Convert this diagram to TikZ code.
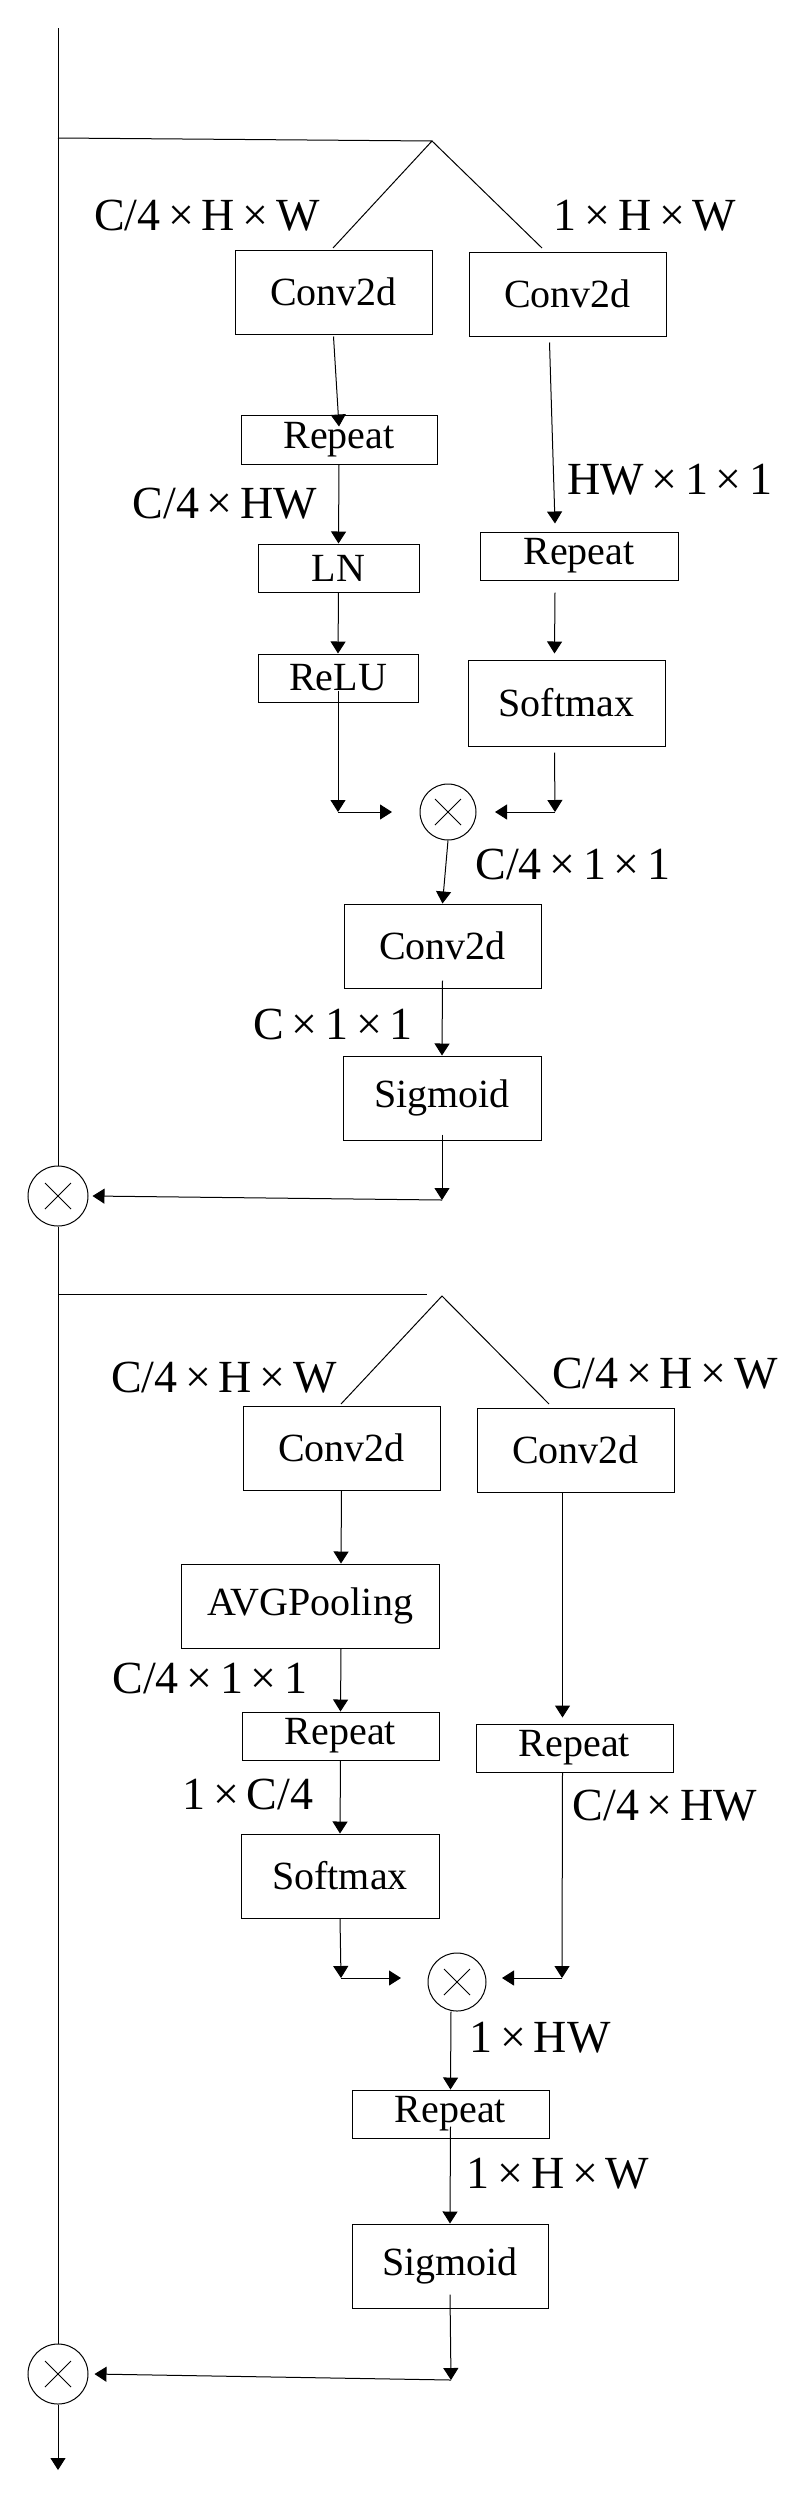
\documentclass[tikz,border=0pt]{standalone}
\usepackage{fontspec}
\setmainfont{Liberation Serif}
\usetikzlibrary{arrows.meta}
\begin{document}
\begin{tikzpicture}[x=1pt,y=-1pt,
  box/.style={draw,line width=1pt,inner sep=0pt,font=\fontsize{40}{44}\selectfont},
  lab/.style={inner sep=0pt,font=\fontsize{46}{50}\selectfont},
  mul/.style={draw,circle,line width=1pt,minimum size=#1,inner sep=0pt},
  ln/.style={line width=1pt},
  arr/.style={line width=1pt,-{Triangle[width=15pt,length=12pt]}}]
\useasboundingbox (0,0) rectangle (807,2500);
\newcommand{\X}{\,×\,}
% ---------- top block ----------
\node[box,minimum width=197,minimum height=84] (cL1) at (333.5,292) {Conv2d};
\node[box,minimum width=197,minimum height=84] (cR1) at (567.5,294) {Conv2d};
\node[box,minimum width=196,minimum height=49] (rep1) at (339,439.5) {Repeat};
\node[box,minimum width=161,minimum height=48] (lnb) at (338.5,568) {LN};
\node[box,minimum width=160,minimum height=48] (relu) at (338,678) {ReLU};
\node[box,minimum width=198,minimum height=48] (repR1) at (579,556) {Repeat};
\node[box,minimum width=197,minimum height=86] (softR1) at (566.5,703) {Softmax};
\node[mul=56] (m1) at (448,812) {};
\node[box,minimum width=197,minimum height=84] (conv3) at (442.5,946) {Conv2d};
\node[box,minimum width=198,minimum height=84] (sig1) at (442,1098) {Sigmoid};
\node[mul=60] (M1) at (58,1196) {};
\node[lab] (l1) at (207,216) {C/4\X H\X W};
\node[lab] (l2) at (645,216) {1\X H\X W};
\node[lab] (l3) at (225,504) {C/4\X HW};
\node[lab] (l4) at (670,480) {HW\X 1\X 1};
\node[lab] (l5) at (573,864) {C/4\X 1\X 1};
\node[lab] (l6) at (333,1024) {C\X 1\X 1};
\coordinate (top) at (58,28);
\coordinate (h1) at (58,138);
\coordinate (ap1) at (432,141);
\coordinate (bL1) at (333,248);
\coordinate (bR1) at (542,248);
\draw[ln] (h1) -- (ap1) -- (bL1);
\draw[ln] (ap1) -- (bR1);
\draw[arr] (cL1.south) ++(0,2) -- ([yshift=-12]rep1.north);
\draw[arr] (rep1.south) -- (lnb.north);
\draw[arr] (lnb.south) -- (relu.north);
\coordinate (j1) at (338,812); \coordinate (k1) at (392,812);
\draw[arr] ([yshift=12]relu.south) -- (j1);
\draw[arr] (j1) -- (k1);
\draw[arr] ([shift={(-18,6)}]cR1.south) -- ([shift={(-24,-8)}]repR1.north);
\draw[arr] ([shift={(-24,12)}]repR1.south) -- ([shift={(-12,-6)}]softR1.north);
\coordinate (j2) at (555,812); \coordinate (k2) at (495,812);
\draw[arr] ([shift={(-12,6)}]softR1.south) -- (j2);
\draw[arr] (j2) -- (k2);
\draw[arr] (m1.south) -- (conv3.north);
\draw[arr] ([yshift=8]conv3.south) -- (sig1.north);
\coordinate (j3) at (442,1200);
\draw[arr] ([yshift=6]sig1.south) -- (j3);
\draw[arr] (j3) -- ([xshift=4]M1.east);
% ---------- bottom block ----------
\node[box,minimum width=197,minimum height=84] (cL2) at (341.5,1448) {Conv2d};
\node[box,minimum width=197,minimum height=84] (cR2) at (575.5,1450) {Conv2d};
\node[box,minimum width=258,minimum height=84] (avg) at (310,1606) {AVGPooling};
\node[box,minimum width=197,minimum height=48] (rep2) at (340.5,1736) {Repeat};
\node[box,minimum width=198,minimum height=84] (soft2) at (340,1876) {Softmax};
\node[box,minimum width=197,minimum height=48] (repR2) at (574.5,1748) {Repeat};
\node[mul=58] (m2) at (457,1982) {};
\node[box,minimum width=197,minimum height=48] (rep3) at (450.5,2114) {Repeat};
\node[box,minimum width=196,minimum height=84] (sig2) at (450,2266) {Sigmoid};
\node[mul=60] (M2) at (58,2374) {};
\node[lab] (b1) at (224,1378) {C/4\X H\X W};
\node[lab] (b2) at (665,1374) {C/4\X H\X W};
\node[lab] (b3) at (210,1678) {C/4\X 1\X 1};
\node[lab] (b4) at (248,1794) {1\X C/4};
\node[lab] (b5) at (665,1806) {C/4\X HW};
\node[lab] (b6) at (540,2038) {1\X HW};
\node[lab] (b7) at (558,2174) {1\X H\X W};
\coordinate (h2) at (58,1294);
\coordinate (ap2) at (442,1296);
\coordinate (bL2) at (341,1404);
\coordinate (bR2) at (549,1404);
\draw[ln] (h2) -- (427,1294);
\draw[ln] (bL2) -- (ap2) -- (bR2);
\draw[arr] (cL2.south) -- ([xshift=31]avg.north);
\draw[arr] ([xshift=31]avg.south) -- (rep2.north);
\draw[arr] (rep2.south) -- (soft2.north);
\coordinate (j4) at (341,1978); \coordinate (k4) at (401,1978);
\draw[arr] (soft2.south) -- (j4);
\draw[arr] (j4) -- (k4);
\draw[arr] ([xshift=-13]cR2.south) -- ([shift={(-12,-6)}]repR2.north);
\coordinate (j5) at (562,1978); \coordinate (k5) at (502,1978);
\draw[arr] ([xshift=-12]repR2.south) -- (j5);
\draw[arr] (j5) -- (k5);
\draw[arr] ([xshift=-6]m2.south) -- (rep3.north);
\draw[arr] ([yshift=12]rep3.south) -- (sig2.north);
\coordinate (j6) at (451,2380);
\draw[arr] ([yshift=14]sig2.south) -- (j6);
\draw[arr] (j6) -- ([xshift=6]M2.east);
% ---------- main line ----------
\coordinate (out) at (58,2470);
\draw[ln] (top) -- (M1.north);
\draw[ln] (M1.south) -- (M2.north);
\draw[arr] (M2.south) -- (out);
\foreach \m in {m1,m2,M1,M2}{
  \draw[line width=0.8pt] ([shift={(-13,-13)}]\m.center) -- ([shift={(13,13)}]\m.center);
  \draw[line width=0.8pt] ([shift={(-13,13)}]\m.center) -- ([shift={(13,-13)}]\m.center);
}
\end{tikzpicture}
\end{document}
